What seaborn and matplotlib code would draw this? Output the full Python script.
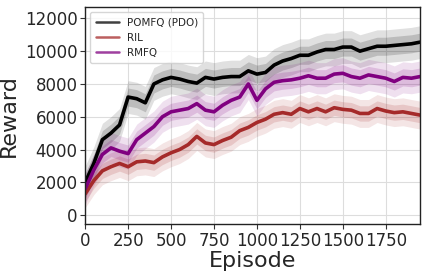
import numpy as np
import pandas as pd
import matplotlib
matplotlib.use("Agg")
import matplotlib.pyplot as plt
import seaborn as sns

episodes = [0, 50, 100, 150, 200, 250, 300, 350, 400, 450, 500, 550, 600, 650, 700,
            750, 800, 850, 900, 950, 1000, 1050, 1100, 1150, 1200, 1250, 1300, 1350,
            1400, 1450, 1500, 1550, 1600, 1650, 1700, 1750, 1800, 1850, 1900, 1950]

pomfq = [2000, 3150, 4600, 5000, 5500, 7200, 7100, 6850, 8000, 8250, 8400, 8300, 8150,
         8050, 8400, 8300, 8400, 8450, 8450, 8800, 8600, 8700, 9150, 9400, 9550, 9750,
         9750, 9950, 10100, 10100, 10250, 10250, 10000, 10150, 10300, 10300, 10350,
         10400, 10450, 10550]

ril = [1300, 2100, 2700, 2950, 3150, 2950, 3250, 3300, 3200, 3550, 3800, 4000, 4300,
       4800, 4400, 4300, 4550, 4750, 5150, 5350, 5650, 5850, 6150, 6250, 6150, 6500,
       6300, 6500, 6300, 6550, 6450, 6400, 6200, 6200, 6500, 6350, 6250, 6300, 6200, 6100]

rmfq = [1600, 2750, 3700, 4100, 3900, 3750, 4600, 5000, 5400, 6000, 6300, 6400, 6500,
        6800, 6400, 6300, 6700, 7000, 7200, 8000, 7000, 7700, 8100, 8200, 8250, 8350,
        8500, 8350, 8350, 8600, 8650, 8450, 8350, 8550, 8450, 8350, 8150, 8400, 8350, 8450]

names = ["POMFQ (PDO)", "RIL", "RMFQ"]
spread = {"POMFQ (PDO)": 1000, "RIL": 850, "RMFQ": 950}
colors = {"POMFQ (PDO)": "#000000", "RIL": "#a52a2a", "RMFQ": "#800080"}
series = {"POMFQ (PDO)": pomfq, "RIL": ril, "RMFQ": rmfq}

df = pd.concat([pd.DataFrame({"Episode": episodes, "Reward": series[n], "method": n})
                for n in names], ignore_index=True)

sns.set_style("whitegrid")
plt.rcParams["font.family"] = ["DejaVu Sans"]

fig = plt.figure(figsize=(4.26, 2.76), dpi=100)
ax = fig.add_axes([0.2, 0.188, 0.786, 0.787])

for n in names:
    y = np.array(series[n], dtype=float)
    s = spread[n]
    ax.fill_between(episodes, y - s, y + s, color=colors[n], alpha=0.12, lw=0)
    ax.fill_between(episodes, y - 0.55 * s, y + 0.55 * s, color=colors[n], alpha=0.16, lw=0)

sns.lineplot(data=df, x="Episode", y="Reward", hue="method", palette=colors,
             hue_order=names, lw=2.6, ax=ax, errorbar=None)

ax.set_xlim(0, 1950)
ax.set_ylim(-550, 12700)
ax.set_xticks([0, 250, 500, 750, 1000, 1250, 1500, 1750])
ax.set_yticks([0, 2000, 4000, 6000, 8000, 10000, 12000])
ax.tick_params(axis="both", labelsize=12, length=3.5, width=0.8, color="#333333",
               bottom=True, left=True, pad=2)
ax.set_xlabel("Episode", fontsize=16, labelpad=1)
ax.set_ylabel("Reward", fontsize=16, labelpad=4)
ax.grid(True, color="#dddddd", lw=0.8)
for sp in ax.spines.values():
    sp.set_color("#222222")
    sp.set_linewidth(1.0)

leg = ax.legend(loc="upper left", fontsize=7.5, frameon=True, handlelength=2.2,
                borderpad=0.5, labelspacing=0.5)
for h in leg.get_lines():
    h.set_alpha(0.75)
    h.set_linewidth(1.8)
leg.get_frame().set_edgecolor("#cccccc")

fig.savefig("out.png", dpi=100)
